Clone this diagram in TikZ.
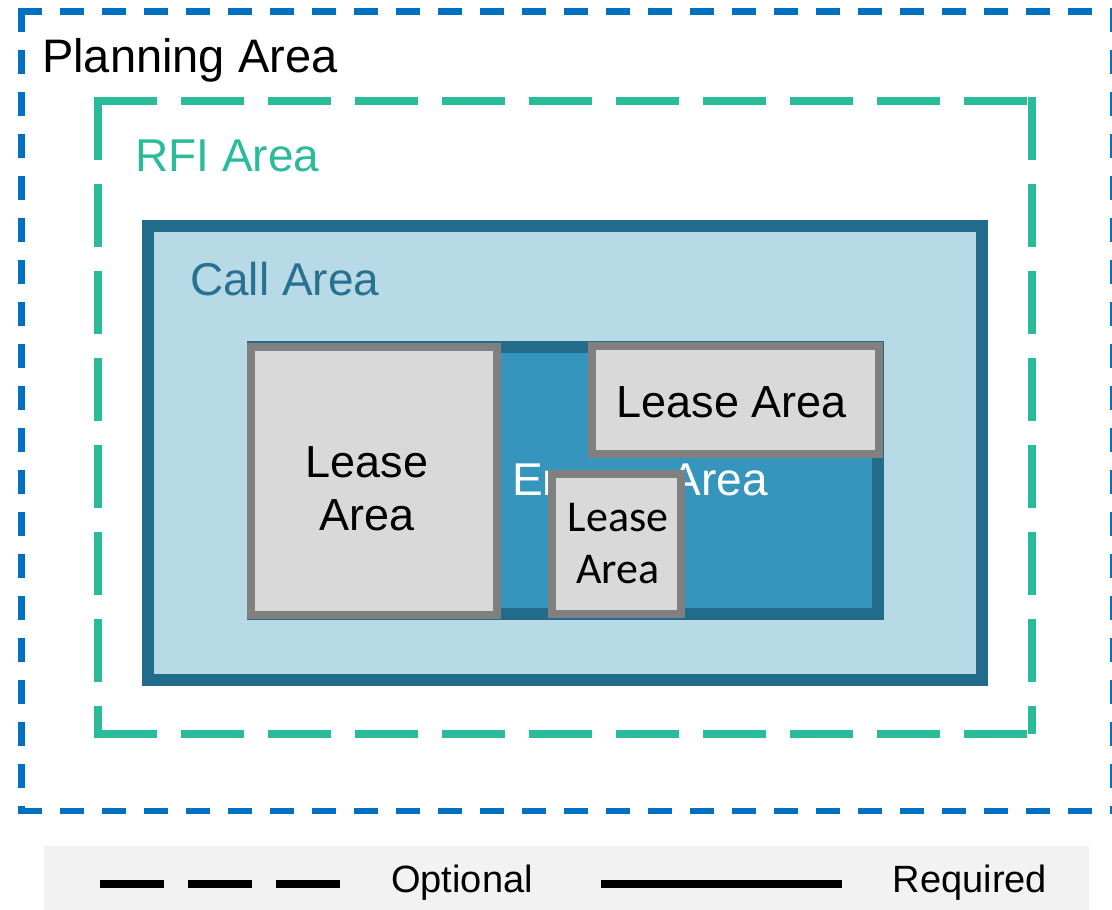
\documentclass[tikz,border=0pt]{standalone}
\usepackage{fontspec}
\setmainfont{Liberation Sans}
\newfontfamily\calfont{Carlito}
\definecolor{planblue}{RGB}{0,112,192}
\definecolor{rfigreen}{RGB}{42,187,155}
\definecolor{calledge}{RGB}{35,107,138}
\definecolor{callfill}{RGB}{184,218,230}
\definecolor{calltext}{RGB}{40,113,145}
\definecolor{energyfill}{RGB}{54,149,188}
\definecolor{leaseedge}{RGB}{128,128,128}
\definecolor{leasefill}{RGB}{217,217,217}
\definecolor{legendfill}{RGB}{242,242,242}
\begin{document}
\begin{tikzpicture}[x=1pt,y=-1pt,
  planframe/.style={draw=planblue, line width=6.5pt, dash pattern=on 24pt off 18pt, shorten <=-3.25pt},
  rfiframe/.style={draw=rfigreen, line width=8pt, dash pattern=on 63pt off 24pt, shorten <=-4pt},
  areabox/.style={rectangle, inner sep=0pt, outer sep=0pt},
  callbox/.style={areabox, draw=calledge, fill=callfill, line width=12pt},
  energybox/.style={areabox, draw=calledge, fill=energyfill, line width=12pt},
  leasebox/.style={areabox, draw=leaseedge, fill=leasefill, line width=8.5pt},
  title/.style={inner sep=0pt, anchor=base west, font=\fontsize{46}{55}\selectfont},
  leasetext/.style={inner sep=0pt, anchor=base, font=\fontsize{45}{53}\selectfont},
  smalltext/.style={inner sep=0pt, anchor=base, font=\calfont\fontsize{44}{53}\selectfont},
  legendtext/.style={inner sep=0pt, anchor=base, font=\fontsize{38}{45}\selectfont},
  legendline/.style={draw=black, line width=8pt}
]
\useasboundingbox (0,0) rectangle (1112,910);

% Planning area
\coordinate (p-tl) at (21.5,11.7);
\coordinate (p-tr) at (1113,11.7);
\coordinate (p-br) at (1113,811);
\coordinate (p-bl) at (21.5,811);
\draw[planframe] (p-tl) -- (p-tr);
\draw[planframe] (p-tr) -- (p-br);
\draw[planframe] (p-bl) -- (p-br);
\draw[planframe] (p-tl) -- (p-bl);
\node[title, font=\fontsize{47}{56}\selectfont] (plantitle) at (42,72) {Planning Area};

% RFI area
\coordinate (r-tl) at (97.5,100.5);
\coordinate (r-tr) at (1032,100.5);
\coordinate (r-br) at (1032,734);
\coordinate (r-bl) at (97.5,734);
\draw[rfiframe] (r-tl) -- (r-tr);
\draw[rfiframe] (r-tr) -- (r-br);
\draw[rfiframe] (r-bl) -- (r-br);
\draw[rfiframe] (r-tl) -- (r-bl);
\node[title, text=rfigreen] (rfititle) at (135,171) {RFI Area};

% Call area
\node[callbox, minimum width=834pt, minimum height=454pt] (call) at (565,453) {};
\node[title, text=calltext] (calltitle) at (190,295) {Call Area};

% Energy area
\node[energybox, minimum width=625pt, minimum height=267pt] (energy) at (565.5,480.5) {};
\node[title, text=white] (energytitle) at (512,495) {Energy Area};

% Lease areas
\node[leasebox, minimum width=246pt, minimum height=268pt] (lease1) at (374,481) {};
\node[leasetext] (lease1a) at (367,477) {Lease};
\node[leasetext] (lease1b) at (367,530) {Area};

\node[leasebox, minimum width=287pt, minimum height=108pt] (lease2) at (735.5,400) {};
\node[leasetext] (lease2a) at (732,417) {Lease Area};

\node[leasebox, minimum width=129pt, minimum height=140pt] (lease3) at (616.5,544) {};
\node[smalltext] (lease3a) at (618,531) {Lease};
\node[smalltext] (lease3b) at (618,583) {Area};

% Legend
\node[areabox, fill=legendfill, minimum width=1045pt, minimum height=64pt, anchor=north west] (legend) at (44,846) {};
\coordinate (opt-a) at (100,884);
\coordinate (opt-b) at (340,884);
\draw[legendline, dash pattern=on 64pt off 24pt] (opt-a) -- (opt-b);
\node[legendtext] (optional) at (462,892) {Optional};
\coordinate (req-a) at (601,884);
\coordinate (req-b) at (842,884);
\draw[legendline] (req-a) -- (req-b);
\node[legendtext] (required) at (970,892) {Required};
\end{tikzpicture}
\end{document}
